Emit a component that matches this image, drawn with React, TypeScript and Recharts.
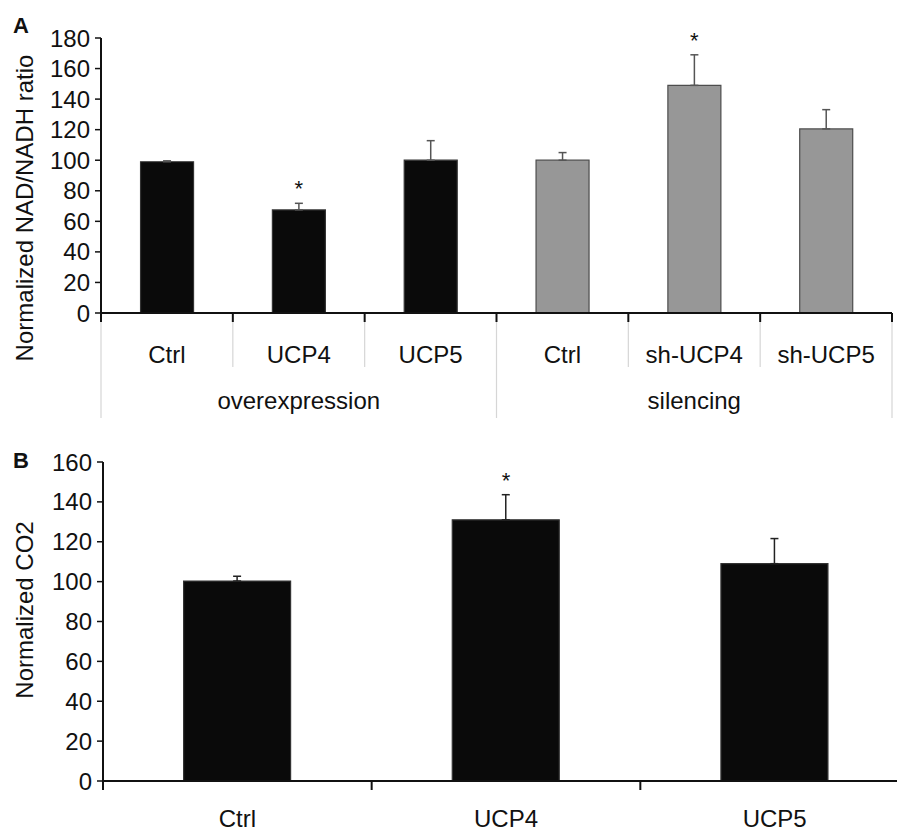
import { Bar, BarChart, Cell, ErrorBar, ReferenceDot, XAxis, YAxis } from 'recharts';

// panel A: NAD/NADH ratio
const catsA = ['Ctrl', 'UCP4', 'UCP5', 'Ctrl', 'sh-UCP4', 'sh-UCP5'];
const groupsA = ['overexpression', 'overexpression', 'overexpression', 'silencing', 'silencing', 'silencing'];
const valsA = [99, 67.5, 100, 100, 149, 120.5];
const errsA = [0.6, 4.3, 12.8, 5, 20, 12.6];
const sigA = [false, true, false, false, true, false];
const ticksA = [0, 20, 40, 60, 80, 100, 120, 140, 160, 180];

// panel B: CO2
const catsB = ['Ctrl', 'UCP4', 'UCP5'];
const valsB = [100.3, 131, 109];
const errsB = [2.4, 12.6, 12.6];
const sigB = [false, true, false];
const ticksB = [0, 20, 40, 60, 80, 100, 120, 140, 160];

const FONT = '"Liberation Sans", Arial, Helvetica, sans-serif';
const INK = '#111';
const GROUP_FILL: Record<string, string> = { overexpression: '#0a0a0a', silencing: '#979797' };
const GROUP_STROKE: Record<string, string> = { overexpression: '#333', silencing: '#4d4d4d' };

const dataA = catsA.map((c, i) => ({
  key: `${groupsA[i]}:${c}`,
  label: c,
  group: groupsA[i],
  value: valsA[i],
  err: [0, errsA[i]],
  top: valsA[i] + errsA[i],
  sig: sigA[i],
}));

const dataB = catsB.map((c, i) => ({
  key: c,
  label: c,
  value: valsB[i],
  err: [0, errsB[i]],
  top: valsB[i] + errsB[i],
  sig: sigB[i],
}));

function AxisTitle({ text, cy }: { text: string; cy: number }) {
  return (
    <text x={33} y={cy} transform={`rotate(-90, 33, ${cy})`} textAnchor="middle" fontSize={24} fill={INK}>
      {text}
    </text>
  );
}

function TickA(props: any) {
  const { x, y, index, payload } = props;
  const half = payload?.offset ?? 791 / catsA.length / 2;
  const left = x - half;
  const right = x + half;
  const isGroupStart = index === 0 || groupsA[index] !== groupsA[index - 1];
  const isGroupEnd = index === catsA.length - 1 || groupsA[index] !== groupsA[index + 1];
  const isGroupMid = groupsA.indexOf(groupsA[index]) + 1 === index;
  const edge = (px: number, long: boolean) => (
    <g>
      <line x1={px} y1={y + 8} x2={px} y2={y + (long ? 105 : 54)} stroke="#d6d6d6" strokeWidth={1.2} />
      <line x1={px} y1={y} x2={px} y2={y + 9} stroke={INK} strokeWidth={2} />
    </g>
  );
  return (
    <g>
      {edge(left, isGroupStart)}
      {index === catsA.length - 1 && edge(right, isGroupEnd)}
      <text x={x} y={y + 50} textAnchor="middle" fontSize={24} fill={INK}>
        {catsA[index]}
      </text>
      {isGroupMid && (
        <text x={x} y={y + 96} textAnchor="middle" fontSize={24} fill={INK}>
          {groupsA[index]}
        </text>
      )}
    </g>
  );
}

function TickB(props: any) {
  const { x, y, index, payload } = props;
  const half = payload?.offset ?? 806 / catsB.length / 2;
  return (
    <g>
      <line x1={x - half} y1={y} x2={x - half} y2={y + 9} stroke={INK} strokeWidth={2} />
      {index === catsB.length - 1 && (
        <line x1={x + half} y1={y} x2={x + half} y2={y + 9} stroke={INK} strokeWidth={2} />
      )}
      <text x={x} y={y + 46} textAnchor="middle" fontSize={24} fill={INK}>
        {catsB[index]}
      </text>
    </g>
  );
}

const starLabel = { value: '*', position: 'top' as const, offset: 7, fontSize: 22, fill: INK };

export default function App() {
  return (
    <div
      style={{
        position: 'absolute',
        left: 0,
        top: 0,
        width: 897,
        height: 832,
        overflow: 'hidden',
        background: '#fff',
        fontFamily: FONT,
      }}
    >
      <svg width={60} height={480} style={{ position: 'absolute', left: 0, top: 0 }}>
        <text x={13} y={33} fontSize={22} fontWeight="bold" fill={INK}>A</text>
        <text x={13} y={468} fontSize={22} fontWeight="bold" fill={INK}>B</text>
      </svg>

      <div style={{ position: 'absolute', left: 0, top: 0 }}>
        <BarChart width={897} height={430} data={dataA} margin={{ top: 38, right: 5, left: 0, bottom: 0 }} barCategoryGap="30%">
          <XAxis
            dataKey="key"
            height={117}
            interval={0}
            tickSize={0}
            tickMargin={0}
            tickLine={false}
            axisLine={{ stroke: INK, strokeWidth: 2 }}
            tick={<TickA />}
          />
          <YAxis
            width={101}
            domain={[0, 180]}
            ticks={ticksA}
            interval={0}
            tickSize={6}
            tickMargin={5}
            tick={{ fontSize: 24, fill: INK }}
            tickLine={{ stroke: INK, strokeWidth: 1.5 }}
            axisLine={{ stroke: INK, strokeWidth: 2 }}
            label={<AxisTitle text="Normalized NAD/NADH ratio" cy={208} />}
          />
          <Bar dataKey="value" isAnimationActive={false} strokeWidth={1.2}>
            {dataA.map((d) => (
              <Cell key={d.key} fill={GROUP_FILL[d.group]} stroke={GROUP_STROKE[d.group]} />
            ))}
            <ErrorBar dataKey="err" width={4} stroke="#555" strokeWidth={1.5} direction="y" isAnimationActive={false} />
          </Bar>
          {dataA.filter((d) => d.sig).map((d) => (
            <ReferenceDot key={d.key} x={d.key} y={d.top} r={0} ifOverflow="visible" label={starLabel} />
          ))}
        </BarChart>
      </div>

      <div style={{ position: 'absolute', left: 0, top: 430 }}>
        <BarChart width={914} height={402} data={dataB} margin={{ top: 32, right: 5, left: 0, bottom: 0 }} barCategoryGap="30%">
          <XAxis
            dataKey="key"
            height={51}
            interval={0}
            tickSize={0}
            tickMargin={0}
            tickLine={false}
            axisLine={{ stroke: INK, strokeWidth: 2 }}
            tick={<TickB />}
          />
          <YAxis
            width={103}
            domain={[0, 160]}
            ticks={ticksB}
            interval={0}
            tickSize={6}
            tickMargin={5}
            tick={{ fontSize: 24, fill: INK }}
            tickLine={{ stroke: INK, strokeWidth: 1.5 }}
            axisLine={{ stroke: INK, strokeWidth: 2 }}
            label={<AxisTitle text="Normalized CO2" cy={180} />}
          />
          <Bar dataKey="value" isAnimationActive={false} fill="#0a0a0a" stroke="#333" strokeWidth={1.2}>
            <ErrorBar dataKey="err" width={4} stroke="#222" strokeWidth={1.5} direction="y" isAnimationActive={false} />
          </Bar>
          {dataB.filter((d) => d.sig).map((d) => (
            <ReferenceDot key={d.key} x={d.key} y={d.top} r={0} ifOverflow="visible" label={starLabel} />
          ))}
        </BarChart>
      </div>
    </div>
  );
}
